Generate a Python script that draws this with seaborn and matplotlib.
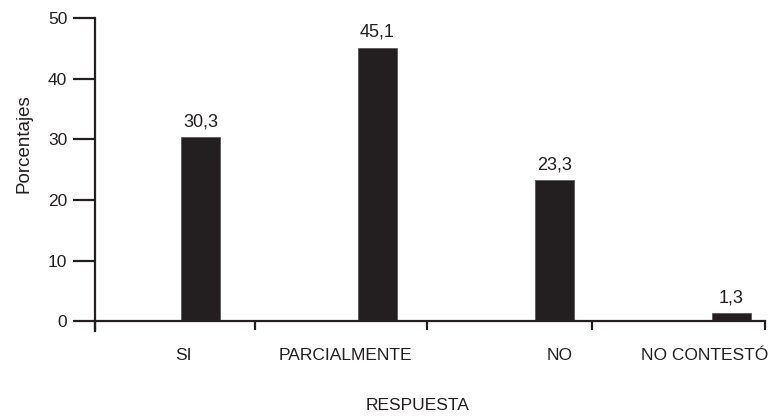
import matplotlib
matplotlib.use("Agg")
import matplotlib.pyplot as plt
import seaborn as sns
import pandas as pd

categories = ["SI", "PARCIALMENTE", "NO", "NO CONTESTÓ"]
values = [30.3, 45.1, 23.3, 1.3]
yticks = [0, 10, 20, 30, 40, 50]

df = pd.DataFrame({"Respuesta": categories, "Porcentajes": values})

sns.set_theme(style="white")
plt.rcParams["font.family"] = ["Liberation Sans", "DejaVu Sans"]
ink = "#231f20"

fig = plt.figure(figsize=(7.79, 4.17), dpi=100)
ax = fig.add_axes([95 / 779, 1 - 331 / 417, (765 - 95) / 779, (331 - 18) / 417])

sns.barplot(data=df, x="Respuesta", y="Porcentajes", color=ink, width=0.22,
            saturation=1, ax=ax, edgecolor="#5a5656", linewidth=0.6)

labels = [f"{v:.1f}".replace(".", ",") for v in values]
ax.bar_label(ax.containers[0], labels=labels, padding=5, fontsize=13, color=ink)

ax.set_xlim(-0.598, 3.192)
ax.set_ylim(-1.6, 50)
ax.set_yticks(yticks)
ax.set_yticklabels([str(t) for t in yticks])

# category labels (no tick marks) and separator ticks between groups
label_pos = [-0.10, 0.816, 2.03, 2.85]
sep_pos = [-0.598, 0.307, 1.28, 2.213, 3.192]
ax.set_xticks(label_pos)
ax.set_xticklabels(categories)
ax.set_xticks(sep_pos, minor=True)
ax.tick_params(axis="x", which="major", length=0, pad=19, labelsize=12.5, colors=ink)
ax.tick_params(axis="x", which="minor", length=6.5, width=1.6, color=ink, direction="out", bottom=True)
ax.tick_params(axis="y", which="major", length=16, width=1.6, color=ink, direction="out",
               left=True, pad=4, labelsize=12.5, labelcolor=ink)

for s in ["top", "right"]:
    ax.spines[s].set_visible(False)
ax.spines["left"].set_color(ink)
ax.spines["left"].set_linewidth(1.6)
ax.spines["bottom"].set_position(("data", 0))
ax.spines["bottom"].set_color(ink)
ax.spines["bottom"].set_linewidth(1.6)

ax.set_xlabel("")
ax.set_ylabel("Porcentajes", fontsize=13.5, color=ink)
ax.yaxis.set_label_coords(-0.094, 0.60)
fig.text(418 / 779, 1 - 406 / 417, "RESPUESTA", ha="center", va="center",
         fontsize=12.5, color=ink)

fig.savefig("out.png", dpi=100)
